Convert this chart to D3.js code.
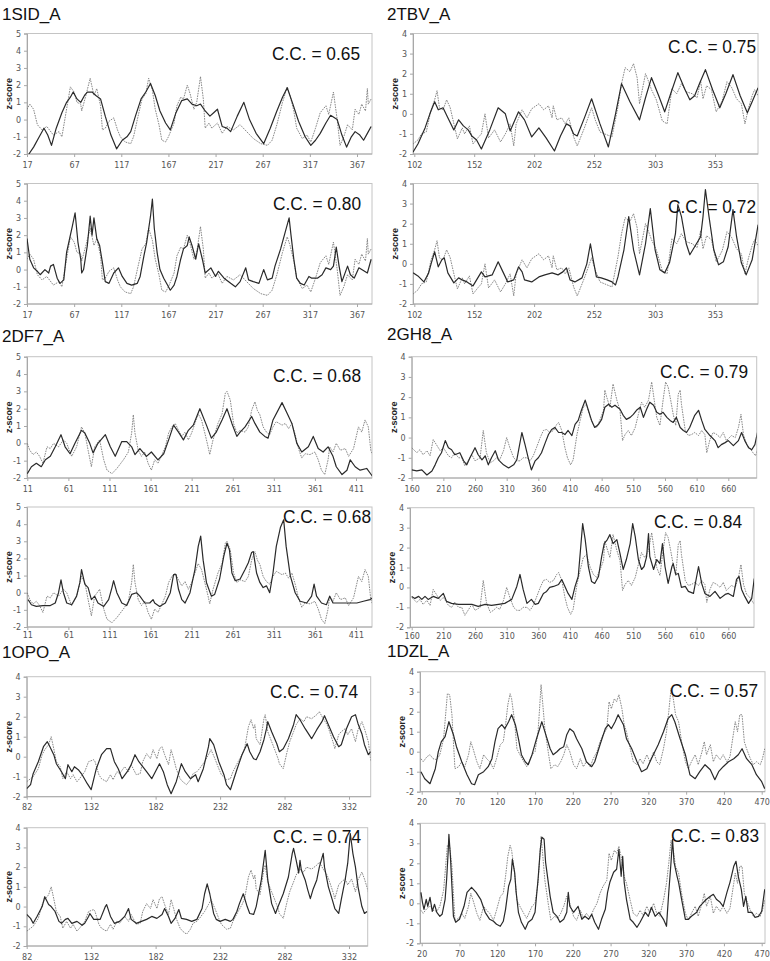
<!DOCTYPE html>
<html>
<head>
<meta charset="utf-8">
<script src="https://cdn.jsdelivr.net/npm/d3@7"></script>
<style>
  body { margin: 0; background: #fff; }
  svg { display: block; font-family: "Liberation Sans", Arial, sans-serif; }
</style>
</head>
<body>
<div id="chart"></div>
<script>
// protein names, correlation values and axis tick labels
var proteins = ["1SID_A", "2TBV_A", "2DF7_A", "2GH8_A", "1OPO_A", "1DZL_A"];
var ccValues = [["0.65", "0.80"], ["0.75", "0.72"], ["0.68", "0.68"], ["0.79", "0.84"], ["0.74", "0.74"], ["0.57", "0.83"]];

var ticks_1SID = [17, 67, 117, 167, 217, 267, 317, 367];
var ticks_2TBV = [102, 152, 202, 252, 303, 353];
var ticks_2DF7 = [11, 61, 111, 161, 211, 261, 311, 361, 411];
var ticks_2GH8 = [160, 210, 260, 310, 360, 410, 460, 510, 560, 610, 660];
var ticks_1OPO = [82, 132, 182, 232, 282, 332];
var ticks_1DZL = [20, 70, 120, 170, 220, 270, 320, 370, 420, 470];

// [residue, z-score] -- dotted series (same in both panels of a protein)
var sid_exp = [[17,0.6],[20,0.9],[24,0.6],[28,-0.3],[33,-0.6],[38,-0.4],[45,-0.9],[51,-0.7],[54,-1.0],[63,1.9],[67,1.6],[70,1.0],[74,0.9],[75,0.5],[79,1.3],[84,2.4],[88,1.4],[91,1.8],[95,0.8],[97,-0.6],[100,-0.5],[104,-0.1],[109,0.1],[113,-0.6],[116,-1.0],[121,-1.3],[127,-1.4],[130,-1.0],[134,0.0],[139,1.2],[143,1.5],[146,2.4],[150,1.7],[153,0.6],[157,-0.3],[160,-1.2],[164,-1.3],[167,-1.0],[173,-0.2],[176,0.8],[180,1.3],[183,1.2],[187,2.0],[190,1.5],[194,0.6],[197,1.0],[201,2.5],[204,1.2],[206,-0.5],[210,-0.2],[213,-0.5],[219,-0.2],[224,-0.8],[229,-0.4],[236,-0.6],[243,-0.3],[250,-0.7],[257,-1.1],[265,-1.4],[272,-1.5],[277,-1.2],[282,-0.3],[288,1.0],[293,1.9],[296,1.4],[300,0.5],[303,-0.5],[309,-1.1],[314,-0.9],[318,-1.3],[323,-0.5],[328,0.4],[334,0.8],[337,0.3],[342,1.6],[346,0.0],[349,-1.5],[353,-1.0],[357,-0.3],[362,-0.6],[365,0.6],[369,0.3],[372,0.9],[376,0.5],[378,1.8],[379,0.9],[382,1.2]];
var sid_pred1 = [[19,-2.0],[24,-1.6],[30,-1.0],[35,-0.5],[39,-0.9],[43,-1.5],[48,-0.5],[54,0.4],[59,1.0],[63,1.3],[66,1.6],[70,1.2],[74,1.0],[78,1.4],[81,1.6],[86,1.6],[90,1.4],[95,1.2],[100,0.2],[106,-0.9],[112,-1.7],[118,-1.2],[123,-1.0],[127,-0.7],[132,0.2],[138,1.2],[143,1.6],[148,2.1],[153,1.4],[158,0.5],[164,-0.2],[169,-0.6],[175,0.4],[181,1.1],[187,1.2],[192,0.9],[197,0.8],[201,0.9],[206,0.5],[211,0.2],[215,0.4],[219,0.6],[224,-0.4],[229,-0.5],[233,-0.7],[240,0.2],[247,1.0],[253,0.0],[260,-0.8],[268,-1.4],[275,-0.5],[282,0.5],[288,1.3],[293,1.85],[299,0.9],[305,-0.1],[312,-1.0],[318,-1.5],[323,-1.2],[328,-0.8],[334,-0.2],[339,0.25],[346,0.0],[351,-0.9],[356,-1.6],[361,-1.0],[365,-0.7],[370,-0.9],[374,-1.2],[378,-0.8],[382,-0.4]];
var sid_pred2 = [[17,1.8],[20,0.6],[24,0.1],[28,-0.1],[31,-0.3],[36,0.0],[40,-0.2],[42,0.2],[45,0.3],[49,-0.5],[52,-0.8],[56,-0.6],[59,1.0],[63,2.0],[65,2.5],[68,3.3],[71,1.6],[74,0.6],[75,-0.2],[77,0.0],[81,1.4],[84,3.1],[86,2.0],[88,3.0],[91,1.8],[94,1.4],[97,0.4],[100,-0.7],[104,-0.8],[109,-0.2],[114,0.1],[118,-0.4],[123,-0.8],[128,-0.9],[134,-0.8],[137,-0.4],[141,0.8],[144,1.6],[148,3.1],[150,4.1],[152,2.4],[155,1.0],[158,0.0],[162,-0.5],[166,-0.9],[169,-1.2],[173,-0.9],[176,-0.4],[180,0.6],[183,1.2],[187,1.4],[189,1.9],[192,1.4],[196,0.6],[199,1.5],[203,0.6],[206,-0.2],[212,0.1],[217,-0.4],[220,-0.1],[226,-0.5],[233,-0.8],[238,-1.0],[243,-0.7],[249,0.1],[252,-0.6],[257,-0.7],[263,-0.8],[268,0.0],[272,-0.6],[277,-0.5],[280,0.2],[286,1.2],[291,2.2],[295,3.0],[297,2.0],[300,0.6],[303,-0.5],[307,-0.8],[311,-0.9],[316,-0.4],[319,-0.5],[325,-0.5],[330,-0.3],[334,0.1],[339,0.0],[342,0.2],[345,1.3],[348,0.2],[351,-0.7],[357,0.2],[360,-0.3],[364,-0.5],[369,0.1],[372,0.0],[378,-0.2],[382,0.6]];

var tbv_exp = [[101,-1.5],[105,-1.3],[108,-1.0],[112,-0.9],[116,0.2],[119,0.7],[121,1.15],[123,0.3],[126,0.2],[129,0.7],[132,0.3],[136,-0.75],[138,-1.25],[142,-0.7],[144,-1.0],[148,-0.6],[151,-1.5],[155,-1.2],[158,-1.0],[161,0.0],[164,-1.2],[169,-0.8],[174,-1.4],[178,-1.0],[182,-0.5],[185,-1.6],[187,-0.5],[192,0.2],[196,-0.2],[200,0.25],[206,0.5],[210,0.2],[214,0.4],[217,-0.2],[218,0.4],[221,-0.3],[225,-0.2],[228,-0.5],[231,-0.2],[235,-1.15],[238,-1.6],[240,-1.3],[244,-0.7],[250,0.3],[253,-0.3],[257,-0.9],[261,-1.0],[267,-1.15],[272,0.35],[275,1.5],[278,2.3],[282,2.1],[285,2.5],[288,1.8],[290,0.5],[295,2.0],[297,1.7],[300,1.2],[304,0.7],[309,-0.35],[313,-0.5],[317,1.25],[321,1.0],[325,1.5],[329,1.1],[334,1.0],[338,0.8],[341,1.65],[343,0.75],[346,1.4],[350,1.2],[354,0.1],[359,0.65],[363,1.6],[367,1.3],[371,0.75],[375,0.5],[378,-0.5],[381,0.3],[384,0.9],[386,1.2],[389,0.9]];
var tbv_pred1 = [[101,-1.9],[105,-1.5],[111,-0.7],[115,0.0],[119,0.6],[122,0.2],[126,0.3],[130,-0.2],[135,-0.8],[139,-0.3],[143,-0.6],[147,-0.8],[150,-1.1],[154,-1.3],[158,-1.75],[165,-0.8],[172,0.3],[178,0.0],[182,-0.85],[189,0.1],[194,-0.3],[200,-1.15],[206,-0.7],[212,-1.2],[219,-1.85],[224,-1.1],[229,-0.5],[232,-0.6],[235,-1.0],[238,-1.1],[244,-0.2],[250,0.75],[257,-0.5],[264,-1.65],[270,0.0],[275,1.5],[282,0.6],[290,-0.3],[295,0.8],[300,1.8],[306,0.9],[311,0.1],[316,1.0],[322,2.05],[328,1.2],[332,0.7],[336,0.9],[340,1.5],[345,2.2],[351,1.2],[357,0.3],[362,1.0],[368,1.95],[374,0.9],[380,0.05],[384,0.6],[389,1.3]];
var tbv_pred2 = [[101,-0.45],[105,-0.6],[110,-0.9],[114,-0.45],[116,0.0],[119,0.6],[122,-0.15],[125,0.2],[127,0.3],[130,-0.45],[135,-0.95],[139,-0.7],[142,-0.8],[146,-0.9],[151,-1.1],[155,-0.7],[158,-0.4],[161,-0.65],[167,-0.55],[172,0.1],[176,-0.4],[180,-0.9],[185,-0.8],[189,-0.15],[192,-0.4],[194,-0.8],[200,-0.9],[206,-0.65],[211,-0.55],[217,-0.45],[222,-0.55],[226,-0.4],[229,-0.2],[232,-0.8],[236,-0.9],[242,-0.7],[246,0.0],[249,1.0],[251,0.3],[254,-0.65],[258,-0.7],[263,-0.8],[267,-0.9],[270,-1.05],[272,-0.65],[277,0.7],[281,2.35],[285,0.7],[290,-0.55],[295,1.0],[299,2.75],[303,0.7],[307,-0.3],[311,-0.45],[315,0.05],[320,1.5],[322,2.95],[325,2.35],[329,1.0],[332,0.45],[336,0.85],[341,1.35],[343,2.35],[345,3.7],[348,2.35],[352,0.7],[356,-0.05],[360,0.1],[364,0.85],[368,2.7],[371,1.35],[375,0.05],[379,-0.55],[384,0.2],[389,1.95]];

var df7_exp = [[11,0.0],[14,-0.4],[18,-0.65],[22,-0.5],[26,-0.75],[30,-1.15],[35,-0.2],[39,-0.3],[43,0.0],[49,-0.2],[55,0.2],[59,0.0],[65,-0.75],[71,-0.2],[77,0.95],[81,0.6],[85,-0.4],[89,-1.35],[93,-0.2],[99,0.2],[104,-0.95],[108,-1.55],[114,-1.75],[120,-1.45],[128,-0.95],[134,-0.5],[138,0.6],[140,1.65],[142,0.6],[146,-0.4],[150,-0.75],[154,-0.5],[158,-1.15],[162,-1.55],[166,-0.95],[170,-1.15],[174,-0.75],[179,-0.2],[183,0.6],[187,0.95],[191,1.15],[195,0.75],[199,0.4],[203,0.65],[207,0.2],[211,0.6],[215,1.15],[219,1.7],[223,1.35],[227,0.6],[231,-0.2],[233,-0.65],[237,0.2],[243,1.15],[248,1.7],[252,2.9],[254,3.0],[258,2.5],[262,1.15],[266,0.6],[270,0.75],[276,0.65],[280,0.95],[284,1.9],[288,2.4],[291,1.9],[294,1.65],[298,0.95],[302,0.65],[306,0.5],[310,0.95],[314,1.25],[321,1.05],[325,1.15],[329,0.85],[333,1.15],[337,0.5],[341,-0.3],[345,-0.85],[349,-0.6],[355,-0.65],[361,-0.5],[365,-0.95],[369,-1.55],[373,-1.8],[377,-0.95],[379,-0.2],[383,-0.5],[387,0.0],[392,-0.4],[398,-0.3],[402,-0.75],[408,-0.3],[414,0.95],[418,0.65],[422,1.35],[426,0.95],[429,-0.4],[431,-0.65]];
var df7_pred1 = [[11,-1.75],[16,-1.35],[22,-1.15],[28,-1.35],[33,-0.95],[39,-0.75],[45,-0.2],[52,0.5],[57,-0.2],[63,-0.6],[69,0.0],[77,0.75],[81,0.6],[87,0.0],[91,-0.55],[97,0.0],[106,0.5],[112,-0.2],[118,-0.75],[126,0.1],[132,0.1],[138,-0.2],[142,-0.65],[148,-0.3],[156,-0.75],[162,-0.5],[170,-0.95],[177,-0.6],[183,0.2],[189,1.05],[195,0.65],[201,0.2],[207,0.75],[213,1.05],[221,2.0],[229,1.05],[235,0.3],[241,0.65],[248,1.35],[254,2.0],[260,1.15],[266,0.4],[270,0.65],[276,0.95],[284,1.55],[288,1.15],[294,0.65],[300,0.4],[304,0.3],[310,1.35],[321,2.35],[327,1.75],[333,1.15],[339,0.0],[345,-0.5],[353,-0.2],[359,0.4],[365,-0.3],[371,-0.5],[377,-0.2],[383,-0.75],[387,-1.35],[394,-1.8],[400,-1.55],[404,-0.95],[410,-1.35],[416,-1.55],[424,-1.45],[431,-1.9]];
var df7_pred2 = [[12,-0.4],[16,-0.7],[22,-0.8],[30,-0.75],[39,-0.75],[45,-0.6],[49,0.0],[52,0.75],[55,0.0],[59,-0.6],[65,-0.7],[71,-0.2],[75,0.6],[77,1.35],[81,0.5],[85,0.3],[89,-0.4],[93,-0.2],[97,-0.6],[104,-0.8],[110,-0.4],[114,0.3],[116,0.7],[120,0.0],[126,-0.6],[132,-0.75],[138,-0.1],[144,0.0],[148,-0.2],[154,-0.6],[160,-0.6],[164,-0.4],[166,-0.6],[172,-0.8],[179,-0.6],[185,0.0],[189,1.05],[192,1.05],[195,0.2],[199,-0.4],[203,-0.6],[209,0.0],[215,1.35],[219,2.7],[222,3.3],[225,1.9],[229,0.6],[235,-0.2],[239,-0.1],[245,0.8],[250,2.1],[254,2.9],[257,2.5],[260,1.15],[264,0.7],[270,0.8],[276,1.35],[280,1.75],[284,2.35],[286,2.4],[290,1.15],[294,0.6],[298,0.3],[302,0.4],[306,0.0],[310,1.15],[314,2.7],[319,3.8],[323,4.25],[326,2.7],[331,1.0],[337,0.0],[343,-0.5],[351,-0.6],[357,-0.2],[360,0.5],[363,-0.2],[369,-0.6],[375,-0.7],[379,-0.2],[383,-0.6],[390,-0.6],[396,-0.6],[404,-0.6],[412,-0.6],[420,-0.5],[428,-0.4],[431,-0.3]];

var gh8_exp = [[160,-0.5],[168,-0.75],[173,-0.6],[178,-0.85],[184,-0.65],[189,-0.9],[194,-0.1],[199,-0.35],[205,-0.65],[210,-0.5],[218,-0.9],[223,-1.0],[228,-0.75],[234,-1.0],[239,-1.0],[244,-1.4],[249,-1.15],[255,-0.85],[260,-1.15],[268,-1.0],[273,0.35],[278,-0.75],[284,-1.25],[289,-1.15],[294,-1.0],[299,-1.1],[305,-0.65],[310,0.0],[315,-0.5],[321,-1.0],[326,-1.15],[331,-1.15],[336,-1.0],[342,-1.0],[347,-1.15],[352,-0.9],[357,-0.5],[363,0.0],[368,0.35],[373,0.4],[378,0.25],[384,0.35],[389,0.65],[392,0.75],[397,0.35],[402,-0.5],[406,-1.0],[411,-1.35],[415,-1.1],[421,0.15],[426,0.85],[431,1.5],[436,1.65],[442,1.0],[447,0.65],[452,0.5],[457,0.85],[463,1.35],[465,2.35],[468,2.0],[473,1.5],[478,2.65],[484,1.85],[489,1.35],[493,-0.15],[497,0.15],[502,0.35],[507,0.1],[513,0.5],[518,1.15],[523,1.75],[528,1.5],[534,1.85],[539,2.75],[543,1.85],[547,1.0],[552,0.6],[557,1.85],[561,2.75],[565,2.5],[569,1.85],[573,1.15],[577,0.6],[581,2.15],[584,2.35],[586,1.65],[592,0.35],[597,0.1],[602,0.15],[607,0.25],[613,0.1],[618,0.35],[623,0.15],[626,-0.75],[631,-0.1],[636,0.25],[642,0.15],[647,0.0],[652,0.25],[657,-0.15],[665,0.1],[671,0.0],[676,0.5],[680,1.15],[684,0.15],[689,-0.35],[694,-0.5],[699,-0.75],[703,-0.9],[706,-0.6]];
var gh8_pred1 = [[160,-1.6],[168,-1.65],[176,-1.6],[184,-1.85],[192,-1.65],[197,-1.35],[202,-1.0],[207,-0.75],[213,-0.15],[218,-0.5],[223,-0.6],[228,-0.85],[236,-0.75],[242,-1.15],[247,-1.35],[252,-1.0],[260,-0.5],[265,-0.85],[271,-1.1],[276,-0.9],[281,-1.35],[286,-1.0],[292,-0.65],[297,-1.1],[305,-1.35],[313,-1.5],[321,-1.35],[326,-1.1],[334,0.25],[339,-0.35],[344,-1.0],[349,-1.6],[355,-1.15],[360,-1.0],[365,-0.75],[371,-0.25],[376,0.15],[381,0.4],[386,0.5],[392,0.25],[397,0.25],[402,0.15],[407,0.35],[413,0.1],[418,0.65],[423,0.85],[428,1.35],[434,1.85],[439,1.35],[444,0.85],[449,0.5],[455,0.65],[460,0.9],[465,1.5],[471,1.65],[476,1.5],[481,1.6],[489,1.4],[494,1.1],[499,0.9],[505,1.0],[510,1.15],[515,1.35],[521,1.5],[526,1.0],[531,1.4],[536,1.75],[542,1.6],[547,1.25],[552,1.15],[557,1.25],[563,1.0],[568,0.85],[573,0.75],[578,1.0],[584,0.5],[589,0.35],[594,0.25],[599,0.5],[607,1.1],[613,1.35],[618,0.85],[623,0.4],[631,0.1],[639,-0.15],[644,-0.5],[649,-0.35],[655,-0.25],[660,-0.15],[668,-0.4],[676,-0.15],[681,0.25],[686,-0.15],[692,-0.5],[697,-0.6],[702,-0.35],[706,0.25]];
var gh8_pred2 = [[160,-0.45],[165,-0.55],[171,-0.45],[176,-0.6],[181,-0.45],[186,-0.6],[194,-0.45],[202,-0.55],[210,-0.3],[215,-0.7],[223,-0.8],[234,-0.85],[244,-0.85],[255,-0.85],[265,-0.95],[276,-0.85],[286,-0.9],[297,-0.85],[307,-0.8],[318,-0.6],[326,0.05],[331,0.65],[336,-0.1],[342,-0.8],[349,-0.6],[355,-0.85],[360,-0.8],[368,-0.3],[373,-0.2],[378,0.0],[384,0.05],[392,0.15],[397,0.4],[402,0.05],[407,-0.3],[413,-0.6],[418,0.05],[423,0.55],[427,2.05],[430,3.2],[434,2.4],[439,1.05],[444,0.3],[449,0.2],[455,0.55],[460,1.55],[464,2.2],[469,2.4],[473,2.65],[478,2.2],[484,2.4],[489,1.7],[494,0.9],[499,1.4],[505,2.2],[509,3.2],[513,2.55],[518,1.4],[523,0.9],[527,1.05],[531,1.55],[534,2.7],[536,1.55],[542,0.9],[547,1.4],[552,1.2],[556,2.2],[560,1.05],[565,0.2],[571,1.05],[573,1.2],[577,0.65],[581,0.7],[586,0.0],[592,0.05],[597,-0.2],[605,-0.3],[613,1.05],[618,0.2],[623,-0.3],[631,-0.45],[639,-0.2],[647,-0.55],[655,-0.35],[660,-0.3],[668,-0.45],[673,0.4],[677,0.55],[681,-0.1],[686,-0.45],[692,-0.8],[697,-0.55],[701,0.45]];

var opo_exp = [[82,-1.25],[85,-1.1],[87,-1.0],[91,-0.6],[94,0.1],[96,0.35],[99,0.6],[101,1.0],[103,0.4],[105,-0.25],[108,-0.5],[110,-1.1],[113,-0.75],[116,-1.1],[118,-0.9],[121,-1.25],[123,-1.1],[127,-0.75],[130,-0.25],[134,-0.15],[135,-0.25],[138,-0.9],[140,-1.1],[144,-1.25],[147,-0.9],[149,-1.15],[152,-0.75],[154,-0.85],[158,-0.5],[161,-0.75],[163,-0.4],[167,-0.9],[170,-0.85],[172,-0.25],[175,0.15],[178,-0.1],[180,0.35],[183,-0.1],[185,0.4],[187,0.5],[189,0.1],[192,-0.4],[194,0.35],[196,-0.1],[198,-0.6],[201,-1.1],[203,-1.25],[206,-1.4],[209,-1.15],[211,-0.85],[214,-0.75],[216,-0.6],[220,-0.25],[223,0.1],[225,0.35],[228,-0.1],[231,-0.6],[233,-0.9],[237,-1.15],[240,-1.1],[242,-0.75],[246,-0.25],[249,0.1],[251,0.4],[254,1.5],[256,1.85],[258,1.4],[259,1.6],[260,0.9],[263,0.6],[266,1.9],[267,2.1],[269,1.25],[272,0.75],[275,0.25],[277,-0.1],[278,-0.35],[281,-0.6],[284,0.25],[286,0.75],[289,1.25],[291,1.6],[294,1.9],[297,1.75],[299,2.0],[303,1.9],[307,2.1],[309,2.25],[312,1.9],[315,1.6],[317,1.25],[320,0.65],[321,0.4],[324,1.1],[326,1.25],[329,1.4],[331,1.1],[334,1.4],[337,0.75],[339,1.35],[342,1.75],[344,1.4],[347,0.75],[349,-0.25]];
var opo_pred1 = [[82,-1.6],[85,-1.4],[87,-0.85],[91,-0.25],[95,0.5],[98,0.75],[100,0.5],[103,0.1],[105,-0.35],[109,-0.75],[112,-1.1],[114,-0.4],[117,-0.75],[119,-0.5],[122,-0.65],[125,-0.9],[129,-1.35],[132,-1.65],[136,-0.6],[140,0.1],[144,0.4],[147,0.4],[150,-0.25],[153,-0.6],[156,-1.1],[160,-0.75],[163,-0.4],[166,0.1],[169,-0.25],[172,-0.5],[175,-0.75],[179,-1.1],[183,-0.6],[185,-0.35],[188,-0.75],[191,-1.4],[194,-1.85],[198,-1.25],[202,-0.35],[205,-0.75],[209,-1.1],[213,-0.9],[215,-1.25],[219,-0.6],[223,0.5],[224,0.9],[227,0.6],[231,-0.25],[235,-0.9],[237,-1.4],[240,-1.65],[242,-1.25],[245,-0.65],[249,0.1],[253,0.65],[255,0.25],[258,-0.1],[260,-0.15],[263,0.25],[266,0.85],[268,1.4],[269,1.75],[272,1.25],[276,0.65],[278,0.25],[281,0.4],[285,0.9],[289,1.6],[291,2.1],[294,1.85],[298,1.4],[303,0.9],[307,1.35],[311,1.75],[313,2.05],[316,1.6],[320,1.0],[324,0.5],[326,0.6],[330,1.4],[334,2.0],[337,2.1],[339,1.65],[342,1.15],[344,0.6],[347,0.1],[349,0.25]];
var opo_pred2 = [[82,-0.4],[85,-0.6],[87,-0.85],[90,-0.5],[94,0.0],[96,0.5],[99,0.1],[101,0.0],[104,-0.25],[107,-0.75],[109,-0.85],[112,-0.65],[114,-0.6],[117,-0.85],[121,-0.75],[125,-0.95],[127,-0.85],[130,-0.5],[131,-0.35],[134,-0.65],[139,-0.65],[143,0.0],[144,0.1],[147,-0.5],[150,-0.85],[154,-0.75],[158,-0.5],[161,-0.1],[163,-0.65],[167,-0.85],[171,-0.75],[175,-0.65],[179,-0.5],[183,-0.6],[187,-0.4],[189,-0.1],[192,-0.5],[194,-0.85],[197,-0.6],[200,-0.15],[202,-0.6],[206,-0.65],[210,-0.75],[214,-0.65],[218,-0.1],[220,0.65],[222,1.15],[224,0.65],[227,-0.35],[229,-0.65],[232,-0.75],[236,-0.65],[240,-0.75],[242,-0.65],[245,-0.25],[247,0.15],[250,0.65],[253,0.0],[255,-0.35],[258,-0.4],[260,0.0],[264,1.35],[267,2.85],[269,1.35],[272,0.15],[275,-0.35],[277,0.0],[281,0.65],[285,1.5],[288,2.7],[289,2.95],[291,2.35],[293,1.7],[294,2.35],[295,1.85],[298,1.35],[300,0.85],[302,0.4],[304,0.85],[307,1.35],[309,2.0],[312,2.7],[313,2.0],[316,1.0],[319,0.35],[321,-0.1],[324,-0.35],[326,0.35],[329,1.35],[331,2.2],[333,3.7],[335,2.7],[337,2.0],[339,1.0],[342,0.0],[344,-0.35],[346,-0.25]];

var dzl_exp = [[19,-0.35],[22,-0.5],[27,-0.25],[31,-0.15],[35,-0.35],[40,-0.4],[44,-0.15],[49,0.65],[52,2.0],[54,2.9],[57,2.85],[60,1.85],[62,0.5],[64,-0.85],[69,-0.75],[73,-0.5],[77,-0.75],[82,-0.15],[85,0.5],[88,0.15],[93,-0.5],[97,-0.85],[102,-0.15],[106,-0.35],[110,-0.5],[115,-0.85],[119,-0.35],[124,0.35],[128,0.5],[131,1.35],[134,2.35],[137,2.9],[139,2.65],[143,1.5],[146,0.15],[150,-0.15],[155,-0.5],[159,-0.75],[166,-0.15],[170,0.0],[174,1.0],[176,2.15],[178,3.35],[180,2.5],[183,1.15],[188,-0.15],[191,-0.85],[196,-0.65],[200,-0.75],[204,-0.5],[208,-0.15],[212,0.35],[216,0.0],[221,-0.65],[225,-0.85],[230,-0.35],[234,-0.75],[238,-0.5],[243,-0.75],[247,-0.35],[252,0.0],[256,0.5],[260,0.85],[265,1.15],[268,2.5],[271,2.15],[275,2.65],[278,2.5],[281,2.85],[285,2.15],[288,1.35],[291,1.0],[296,0.15],[300,-0.5],[305,-0.65],[309,-0.35],[313,-0.6],[318,-0.15],[322,-0.5],[327,0.0],[331,-0.5],[335,-0.65],[340,0.15],[344,1.0],[347,2.0],[350,3.15],[353,2.65],[356,1.85],[360,1.5],[364,0.5],[369,-0.5],[373,-0.85],[377,-0.5],[382,-0.15],[386,-0.65],[391,0.0],[394,0.5],[397,-0.15],[402,0.35],[406,-0.5],[410,-0.15],[415,-0.4],[419,-0.15],[424,-0.5],[428,-0.25],[433,1.0],[435,1.5],[438,1.0],[441,1.85],[444,1.85],[447,0.5],[450,0.15],[455,-0.35],[459,-0.65],[463,-0.5],[468,-0.65],[471,-0.35],[474,0.15]];
var dzl_pred1 = [[19,-1.0],[24,-1.35],[31,-1.6],[38,-0.85],[42,0.0],[46,0.5],[51,0.75],[55,1.35],[56,1.5],[62,0.85],[66,0.25],[73,-0.5],[80,-1.15],[86,-1.6],[90,-1.65],[95,-1.15],[102,-1.0],[108,-0.75],[113,-0.35],[117,0.5],[121,1.15],[126,1.35],[130,1.15],[135,1.5],[139,1.85],[144,1.35],[148,0.65],[152,-0.15],[157,-0.5],[161,-0.65],[166,-0.15],[172,0.65],[179,1.5],[183,1.0],[190,0.15],[194,-0.15],[199,0.0],[203,0.15],[208,0.25],[212,0.85],[216,1.15],[221,1.0],[225,0.65],[232,0.15],[238,-0.5],[245,-0.75],[249,-0.5],[256,0.35],[263,1.15],[267,1.35],[271,1.15],[276,1.5],[280,1.85],[287,1.35],[291,0.65],[298,0.15],[305,-0.5],[311,-1.0],[318,-0.85],[324,-0.35],[333,0.35],[340,1.0],[346,1.65],[351,1.85],[355,1.5],[362,0.65],[369,-0.15],[375,-1.15],[382,-1.35],[388,-1.0],[395,-0.65],[402,-0.9],[408,-1.4],[413,-1.0],[419,-0.75],[426,-0.5],[433,-0.35],[439,-0.15],[444,0.15],[450,-0.35],[457,-0.65],[463,-1.15],[470,-1.5],[474,-1.85]];
var dzl_pred2 = [[19,0.55],[21,0.05],[23,-0.3],[26,0.2],[28,-0.15],[31,0.3],[34,-0.4],[37,-0.05],[40,-0.45],[44,-0.65],[47,-0.55],[51,0.2],[53,1.2],[55,2.55],[56,3.45],[58,2.35],[60,0.85],[62,-0.65],[65,-0.95],[70,-0.8],[76,-0.15],[80,0.55],[86,0.8],[92,0.55],[98,0.2],[104,-0.45],[110,-0.8],[115,-0.9],[119,-1.05],[124,-1.15],[128,-0.9],[131,-0.3],[135,0.85],[138,1.2],[140,2.2],[143,1.55],[145,0.55],[148,-0.45],[152,-0.95],[157,-1.3],[161,-0.95],[166,-0.8],[170,-0.45],[174,1.2],[177,2.7],[179,3.3],[182,3.2],[184,2.05],[187,1.2],[190,0.35],[194,-0.45],[199,-0.65],[203,-0.95],[208,-0.8],[212,-0.45],[214,0.55],[216,-0.15],[221,-0.45],[227,-0.15],[232,-0.8],[236,-0.65],[241,-0.8],[245,-0.55],[249,-0.95],[254,-1.3],[258,-0.8],[263,-0.3],[266,0.55],[269,1.05],[274,1.55],[278,1.7],[281,2.7],[284,1.35],[286,2.35],[288,1.05],[291,0.2],[296,-0.8],[300,-0.95],[305,-1.2],[309,-0.95],[316,-0.45],[320,-0.65],[324,-0.2],[329,-0.65],[334,-0.45],[340,-0.8],[344,-1.15],[347,0.55],[350,2.05],[352,3.2],[354,2.05],[358,1.35],[360,1.05],[364,0.2],[369,-0.8],[373,-0.8],[377,-0.65],[384,-0.45],[388,-0.15],[393,0.05],[397,0.2],[402,0.35],[406,0.45],[410,0.2],[415,0.05],[419,-0.15],[424,0.55],[428,1.05],[433,1.85],[436,2.1],[439,1.35],[443,0.7],[446,-0.15],[449,0.35],[452,-0.45],[457,-0.45],[461,-0.7],[466,-0.65],[470,-0.4],[474,0.7]];

// layout of the 12 panels
var width = 770, height = 961;
var svg = d3.select("#chart").append("svg")
    .attr("width", width)
    .attr("height", height);

var L = {left: 27, right: 372}, R = {left: 413, right: 758};

var panels = [
  {name: 0, box: L, top: 33.5, bottom: 154, yDom: [-2, 5], ticks: ticks_1SID, anchor: [27, 357], exp: sid_exp, pred: sid_pred1, cc: ccValues[0][0], ccPos: [272, 60], titleY: 20},
  {box: L, top: 183.5, bottom: 304, yDom: [-2, 5], ticks: ticks_1SID, anchor: [27, 357], exp: sid_exp, pred: sid_pred2, cc: ccValues[0][1], ccPos: [273, 210]},
  {name: 1, box: R, top: 33.5, bottom: 154, yDom: [-2, 4], ticks: ticks_2TBV, anchor: [414.3, 715], exp: tbv_exp, pred: tbv_pred1, cc: ccValues[1][0], ccPos: [668, 53], titleY: 20},
  {box: R, top: 183.5, bottom: 304, yDom: [-2, 4], ticks: ticks_2TBV, anchor: [414.3, 715], exp: tbv_exp, pred: tbv_pred2, cc: ccValues[1][1], ccPos: [668, 213]},
  {name: 2, box: L, top: 356.7, bottom: 478, yDom: [-2, 5], ticks: ticks_2DF7, anchor: [27.3, 356], exp: df7_exp, pred: df7_pred1, cc: ccValues[2][0], ccPos: [273, 382], titleY: 342},
  {box: L, top: 507, bottom: 627, yDom: [-2, 5], ticks: ticks_2DF7, anchor: [27.3, 356], exp: df7_exp, pred: df7_pred2, cc: ccValues[2][1], ccPos: [283, 523], pad: 2},
  {name: 3, box: {left: 411.7, right: 756.7}, top: 356.7, bottom: 478, yDom: [-2, 4], ticks: ticks_2GH8, anchor: [411.7, 728.3], exp: gh8_exp, pred: gh8_pred1, cc: ccValues[3][0], ccPos: [660, 378], titleY: 340},
  {box: {left: 410, right: 754}, top: 507.7, bottom: 627.3, yDom: [-2, 4], ticks: ticks_2GH8, anchor: [411.7, 728.3], exp: gh8_exp, pred: gh8_pred2, cc: ccValues[3][1], ccPos: [654, 528], pad: 3},
  {name: 4, box: {left: 26.7, right: 370.7}, top: 676.7, bottom: 796.7, yDom: [-2, 4], ticks: ticks_1OPO, anchor: [26.7, 349], exp: opo_exp, pred: opo_pred1, cc: ccValues[4][0], ccPos: [270, 698], titleY: 658},
  {box: {left: 26.7, right: 367.7}, top: 827.7, bottom: 946, yDom: [-2, 4], ticks: ticks_1OPO, anchor: [26.7, 349], exp: opo_exp, pred: opo_pred2, cc: ccValues[4][1], ccPos: [273, 843]},
  {name: 5, box: {left: 420, right: 765}, top: 671.7, bottom: 791.7, yDom: [-2, 4], ticks: ticks_1DZL, anchor: [421.7, 761.7], exp: dzl_exp, pred: dzl_pred1, cc: ccValues[5][0], ccPos: [670, 697], titleY: 657},
  {box: {left: 420, right: 765}, top: 823.3, bottom: 943.3, yDom: [-2, 4], ticks: ticks_1DZL, anchor: [421.7, 761.7], exp: dzl_exp, pred: dzl_pred2, cc: ccValues[5][1], ccPos: [671, 842]}
];

panels.forEach(function(p, i) {
    var left = p.box.left, right = p.box.right;
    var x = d3.scaleLinear()
        .domain([p.ticks[0], p.ticks[p.ticks.length - 1]])
        .range(p.anchor);
    var y = d3.scaleLinear()
        .domain(p.yDom)
        .range([p.bottom, p.top]);

    var g = svg.append("g");

    // title of the protein (only above the first panel of each pair)
    if (p.name !== undefined) {
        g.append("text")
            .attr("x", left < 200 ? 2 : 387)
            .attr("y", p.titleY)
            .style("font-size", "17px")
            .style("fill", "#111")
            .text(proteins[p.name]);
    }

    // plot area frame
    g.append("rect")
        .attr("x", left)
        .attr("y", p.top)
        .attr("width", right - left)
        .attr("height", p.bottom - p.top)
        .attr("fill", "none")
        .attr("stroke", "#c4c4c4")
        .attr("stroke-width", 1);

    // y axis
    var yAxis = d3.axisLeft(y)
        .tickValues(d3.range(p.yDom[0], p.yDom[1] + 1))
        .tickSize(3)
        .tickPadding(3)
        .tickFormat(function(d) { return String(d); });
    var ya = g.append("g")
        .attr("transform", "translate(" + left + ",0)")
        .call(yAxis);
    ya.select(".domain").attr("stroke", "#a8a8a8");
    ya.selectAll(".tick line").attr("stroke", "#a8a8a8");
    ya.selectAll("text").style("font-size", "8px").style("fill", "#555")
        .style("font-family", "'DejaVu Sans', sans-serif");

    // x axis
    var xAxis = d3.axisBottom(x)
        .tickValues(p.ticks)
        .tickSize(3)
        .tickPadding(p.pad === undefined ? 5 : p.pad)
        .tickFormat(function(d) { return String(d); });
    var xa = g.append("g")
        .attr("transform", "translate(0," + p.bottom + ")")
        .call(xAxis);
    xa.select(".domain").remove();
    xa.append("line").attr("x1", left).attr("x2", right).attr("stroke", "#a8a8a8");
    xa.selectAll(".tick line").attr("stroke", "#a8a8a8");
    xa.selectAll("text").style("font-size", "8px").style("fill", "#555")
        .style("font-family", "'DejaVu Sans', sans-serif");

    // y axis label
    g.append("text")
        .attr("transform", "translate(" + (left - 18) + "," + ((p.top + p.bottom) / 2) + ") rotate(-90)")
        .attr("text-anchor", "middle")
        .attr("dy", "0.35em")
        .style("font-size", "9px")
        .style("font-weight", "bold")
        .style("fill", "#222")
        .text("z-score");

    // clip so lines stay in the plot area
    g.append("clipPath").attr("id", "clip" + i)
        .append("rect")
        .attr("x", left).attr("y", p.top)
        .attr("width", right - left).attr("height", p.bottom - p.top);

    var line = d3.line()
        .x(function(d) { return x(d[0]); })
        .y(function(d) { return y(d[1]); });

    var lines = g.append("g").attr("clip-path", "url(#clip" + i + ")");

    lines.append("path")
        .datum(p.exp)
        .attr("d", line)
        .attr("fill", "none")
        .attr("stroke", "#7a7a7a")
        .attr("stroke-width", 0.9)
        .attr("stroke-dasharray", "1.6,1");

    lines.append("path")
        .datum(p.pred)
        .attr("d", line)
        .attr("fill", "none")
        .attr("stroke", "#2a2a2a")
        .attr("stroke-width", 1.2)
        .attr("stroke-linejoin", "round");

    // correlation coefficient
    g.append("text")
        .attr("x", p.ccPos[0])
        .attr("y", p.ccPos[1])
        .attr("textLength", 88)
        .attr("lengthAdjust", "spacingAndGlyphs")
        .style("font-size", "18px")
        .style("fill", "#111")
        .text("C.C. = " + p.cc);
});
</script>
</body>
</html>
